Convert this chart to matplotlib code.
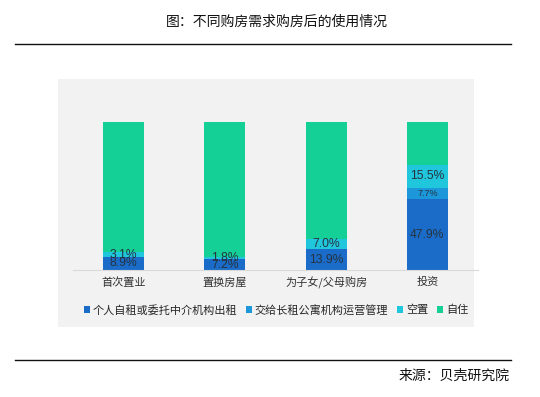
import matplotlib.pyplot as plt
import matplotlib as mpl
from matplotlib.patches import Rectangle
from matplotlib.lines import Line2D
import numpy as np

mpl.rcParams["font.family"] = ["Noto Sans CJK SC", "DejaVu Sans"]

# ---------- Data ----------
categories = ["首次置业", "置换房屋", "为子女/父母购房", "投资"]
series_names = ["个人自租或委托中介机构出租", "交给长租公寓机构运营管理", "空置", "自住"]
self_rent = [8.9, 7.2, 13.9, 47.9]
long_rent = [0.0, 0.0, 0.0, 7.7]
vacant = [3.1, 1.8, 7.0, 15.5]
self_use = [88.0, 91.0, 79.1, 28.9]

COLORS = ["#1a6cc8", "#1b97da", "#20c6dc", "#14cf96"]
LABEL_COLOR = "#263340"

fig = plt.figure(figsize=(5.4, 3.97), dpi=100)
W, H = 540, 397


def fx(px):
    return px / W


def fy(py):
    return 1 - py / H


# grey panel behind chart + legend
fig.patches.append(Rectangle((fx(58), fy(327)), fx(474) - fx(58), fy(79) - fy(327),
                             transform=fig.transFigure, facecolor="#f2f2f2",
                             edgecolor="none", zorder=-5))

# title + rules
fig.text(fx(277), fy(22), "图：不同购房需求购房后的使用情况", ha="center", va="center",
         fontsize=10, color="#111111")
fig.add_artist(Line2D([fx(15), fx(511)], [fy(44), fy(44)], color="#111111", lw=1.0,
                      transform=fig.transFigure))
fig.add_artist(Line2D([fx(15), fx(511)], [fy(360), fy(360)], color="#111111", lw=1.0,
                      transform=fig.transFigure))
fig.text(fx(510), fy(376), "来源：贝壳研究院", ha="right", va="center",
         fontsize=10, color="#111111")

ax = fig.add_axes([fx(73), fy(270), fx(478) - fx(73), fy(122) - fy(270)])
ax.set_facecolor("none")
ax.set_zorder(2)

x = np.arange(len(categories))
width = 0.405
stack = [self_rent, long_rent, vacant, self_use]
bottom = np.zeros(len(categories))
for i, (vals, name) in enumerate(zip(stack, series_names)):
    vals = np.array(vals)
    ax.bar(x, vals, width, bottom=bottom, color=COLORS[i], label=name, zorder=2)
    if i < 3:
        for xi, v, b in zip(x, vals, bottom):
            if v <= 0:
                continue
            fs = 6.5 if (i == 1) else 8.7
            ax.text(xi, b + v / 2, f"{v:.1f}%", ha="center", va="center",
                    fontsize=fs, color=LABEL_COLOR, family="Liberation Sans", zorder=3)
    bottom += vals

ax.set_xlim(-0.5, 3.5)
ax.set_ylim(0, 100)
ax.set_xticks(x)
ax.set_xticklabels(categories, fontsize=8, color="#333333")
ax.tick_params(axis="x", length=0, pad=5)
ax.set_yticks([])
for s in ["top", "right", "left"]:
    ax.spines[s].set_visible(False)
ax.spines["bottom"].set_color("#d9d9d9")
ax.spines["bottom"].set_linewidth(0.8)

ax.legend(loc="center", bbox_to_anchor=(fx(276), fy(310)), bbox_transform=fig.transFigure,
          ncol=4, frameon=False, fontsize=8, handlelength=0.55, handleheight=0.55,
          handletextpad=0.25, columnspacing=0.8, labelcolor="#262626")

fig.savefig("out.png", dpi=100)
